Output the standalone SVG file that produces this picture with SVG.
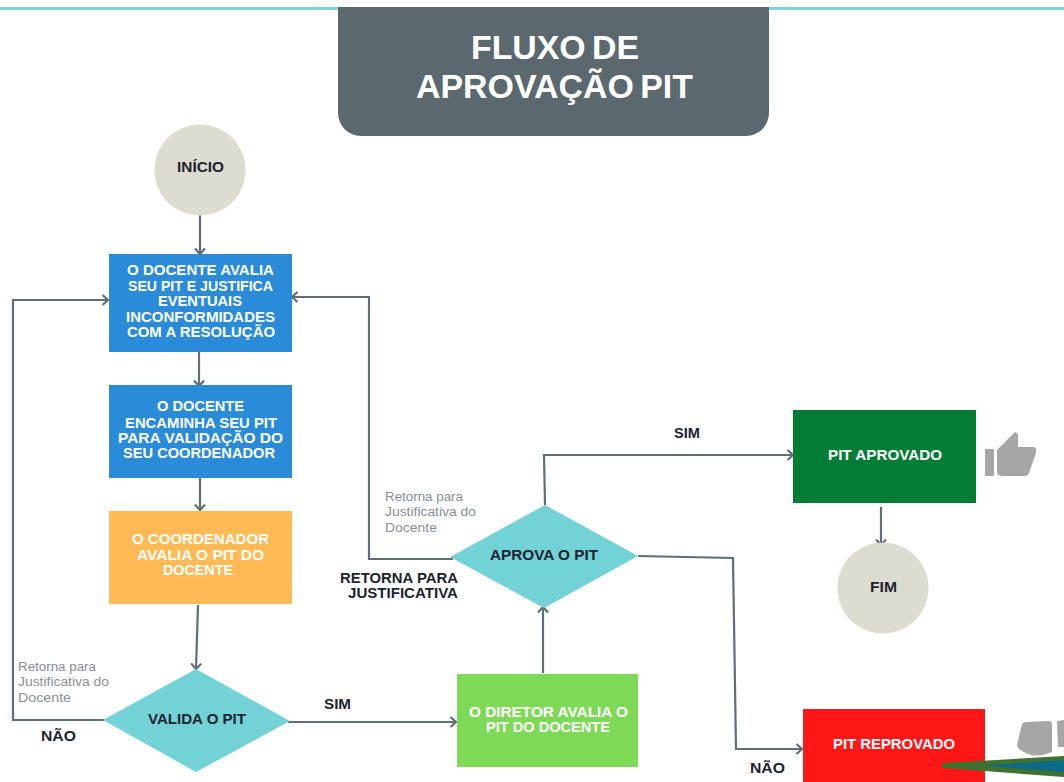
<svg xmlns="http://www.w3.org/2000/svg" width="1064" height="782" viewBox="0 0 1064 782">
<style>
text{font-family:"Liberation Sans",Arial,sans-serif;font-weight:700;text-anchor:start}
.w{fill:#fff;font-size:15px}
.k{fill:#1c2330;font-size:15px}
.n{fill:#8a8d98;font-size:12.5px;font-weight:400}
.a{fill:none;stroke:#5f6f76;stroke-width:2.2;marker-end:url(#h)}
</style>
<defs><marker id="h" markerUnits="userSpaceOnUse" markerWidth="12" markerHeight="14" refX="9.5" refY="7" orient="auto"><path d="M4 2L9.5 7L4 12" fill="none" stroke="#5f6f76" stroke-width="2.2"/></marker></defs>
<rect id="topline" x="0" y="7" width="1064" height="3" fill="#7fd3d9"/>
<g id="title"><path d="M338 7H769V113a23 23 0 0 1-23 23H361a23 23 0 0 1-23-23Z" fill="#5b686e"/>
<text x="471" y="59" fill="#fff" font-size="33" word-spacing="-3" textLength="168" lengthAdjust="spacingAndGlyphs">FLUXO DE</text>
<text x="416" y="98" fill="#fff" font-size="33" word-spacing="-3" textLength="277" lengthAdjust="spacingAndGlyphs">APROVAÇÃO PIT</text></g>
<g id="connectors">
<path class="a" d="M200 215V254"/>
<path class="a" d="M199 347V386"/>
<path class="a" d="M200 478V510"/>
<path class="a" d="M198 605L196 669"/>
<path class="a" d="M104 720H13V300H108"/>
<path class="a" d="M288 722H456"/>
<path class="a" d="M543 673V607"/>
<path class="a" d="M453 559H369V297H292"/>
<path class="a" d="M545 505L544 455H793"/>
<path class="a" d="M638 556L733 558L736 749H802"/>
<path class="a" d="M881 507V545"/>
</g>
<g id="inicio"><circle cx="200" cy="170" r="45.5" fill="#dddcd0"/><text class="k" x="177" y="172" textLength="47" lengthAdjust="spacingAndGlyphs">INÍCIO</text></g>
<g id="avalia"><rect x="109" y="254" width="183" height="98" fill="#2a8bd9"/>
<text class="w" x="127" y="275" textLength="147" lengthAdjust="spacingAndGlyphs">O DOCENTE AVALIA</text><text class="w" x="128" y="291" textLength="145" lengthAdjust="spacingAndGlyphs">SEU PIT E JUSTIFICA</text><text class="w" x="158" y="306" textLength="84" lengthAdjust="spacingAndGlyphs">EVENTUAIS</text><text class="w" x="126" y="322" textLength="149" lengthAdjust="spacingAndGlyphs">INCONFORMIDADES</text><text class="w" x="127" y="337" textLength="148" lengthAdjust="spacingAndGlyphs">COM A RESOLUÇÃO</text></g>
<g id="encaminha"><rect x="109" y="385" width="183" height="93" fill="#2a8bd9"/>
<text class="w" x="157" y="411" textLength="87" lengthAdjust="spacingAndGlyphs">O DOCENTE</text><text class="w" x="125" y="428" textLength="152" lengthAdjust="spacingAndGlyphs">ENCAMINHA SEU PIT</text><text class="w" x="118" y="443" textLength="165" lengthAdjust="spacingAndGlyphs">PARA VALIDAÇÃO DO</text><text class="w" x="123" y="458" textLength="152" lengthAdjust="spacingAndGlyphs">SEU COORDENADOR</text></g>
<g id="coordenador"><rect x="109" y="511" width="183" height="93" fill="#ffb955"/>
<text class="w" x="132" y="544" textLength="137" lengthAdjust="spacingAndGlyphs">O COORDENADOR</text><text class="w" x="137" y="560" textLength="127" lengthAdjust="spacingAndGlyphs">AVALIA O PIT DO</text><text class="w" x="163" y="575" textLength="70" lengthAdjust="spacingAndGlyphs">DOCENTE</text></g>
<g id="valida"><polygon points="103,720 196,669 290,721 196,772" fill="#72d2d6"/><text class="k" x="148" y="724" textLength="98" lengthAdjust="spacingAndGlyphs">VALIDA O PIT</text></g>
<g id="diretor"><rect x="457" y="674" width="181" height="93" fill="#7ed957"/>
<text class="w" x="469" y="717" textLength="159" lengthAdjust="spacingAndGlyphs">O DIRETOR AVALIA O</text><text class="w" x="486" y="732" textLength="124" lengthAdjust="spacingAndGlyphs">PIT DO DOCENTE</text></g>
<g id="aprova"><polygon points="450,557 545,505 638,556 544,608" fill="#72d2d6"/><text class="k" x="490" y="560" textLength="108" lengthAdjust="spacingAndGlyphs">APROVA O PIT</text></g>
<g id="aprovado"><rect x="793" y="410" width="183" height="93" fill="#037d36"/><text class="w" x="828" y="460" textLength="114" lengthAdjust="spacingAndGlyphs">PIT APROVADO</text>
<path d="M985 449H994V476H985ZM997 450L1009 438L1015 432L1018 434V447H1034Q1037 448 1036 453L1029 473Q1028 476 1024 476H1003Q997 476 997 472Z" fill="#a6a6a6"/></g>
<g id="fim"><circle cx="883" cy="588" r="45.5" fill="#dddcd0"/><text class="k" x="870" y="592" textLength="27" lengthAdjust="spacingAndGlyphs">FIM</text></g>
<g id="reprovado"><rect x="803" y="709" width="182" height="73" fill="#ff1616"/><text class="w" x="833" y="749" textLength="122" lengthAdjust="spacingAndGlyphs">PIT REPROVADO</text>
<path d="M1022 724Q1023 722 1027 722L1049 721Q1052 721 1052 725V752Q1040 757 1031 755Q1017 750 1017 745ZM1057 721L1064 720V747H1058Z" fill="#a6a6a6"/>
<path d="M944 763L1064 756V777L944 768Q941 766 941 765.500Q941 764 944 763Z" fill="#3f7230"/><path d="M983 765.500L1064 760V772Z" fill="#0c6a87"/></g>
<g id="labels">
<text class="k" x="674" y="438" textLength="26" lengthAdjust="spacingAndGlyphs">SIM</text>
<text class="k" x="324" y="709" textLength="27" lengthAdjust="spacingAndGlyphs">SIM</text>
<text class="k" x="41" y="741" textLength="35" lengthAdjust="spacingAndGlyphs">NÃO</text>
<text class="k" x="750" y="773" textLength="35" lengthAdjust="spacingAndGlyphs">NÃO</text>
<text class="k" x="340" y="583" textLength="118" lengthAdjust="spacingAndGlyphs">RETORNA PARA</text>
<text class="k" x="348" y="598" textLength="110" lengthAdjust="spacingAndGlyphs">JUSTIFICATIVA</text>
<text class="n" x="385" y="501" textLength="78" lengthAdjust="spacingAndGlyphs">Retorna para</text><text class="n" x="385" y="516" textLength="91" lengthAdjust="spacingAndGlyphs">Justificativa do</text><text class="n" x="385" y="532" textLength="52" lengthAdjust="spacingAndGlyphs">Docente</text>
<text class="n" x="18" y="671" textLength="78" lengthAdjust="spacingAndGlyphs">Retorna para</text><text class="n" x="18" y="686" textLength="91" lengthAdjust="spacingAndGlyphs">Justificativa do</text><text class="n" x="18" y="702" textLength="53" lengthAdjust="spacingAndGlyphs">Docente</text>
</g>
</svg>
